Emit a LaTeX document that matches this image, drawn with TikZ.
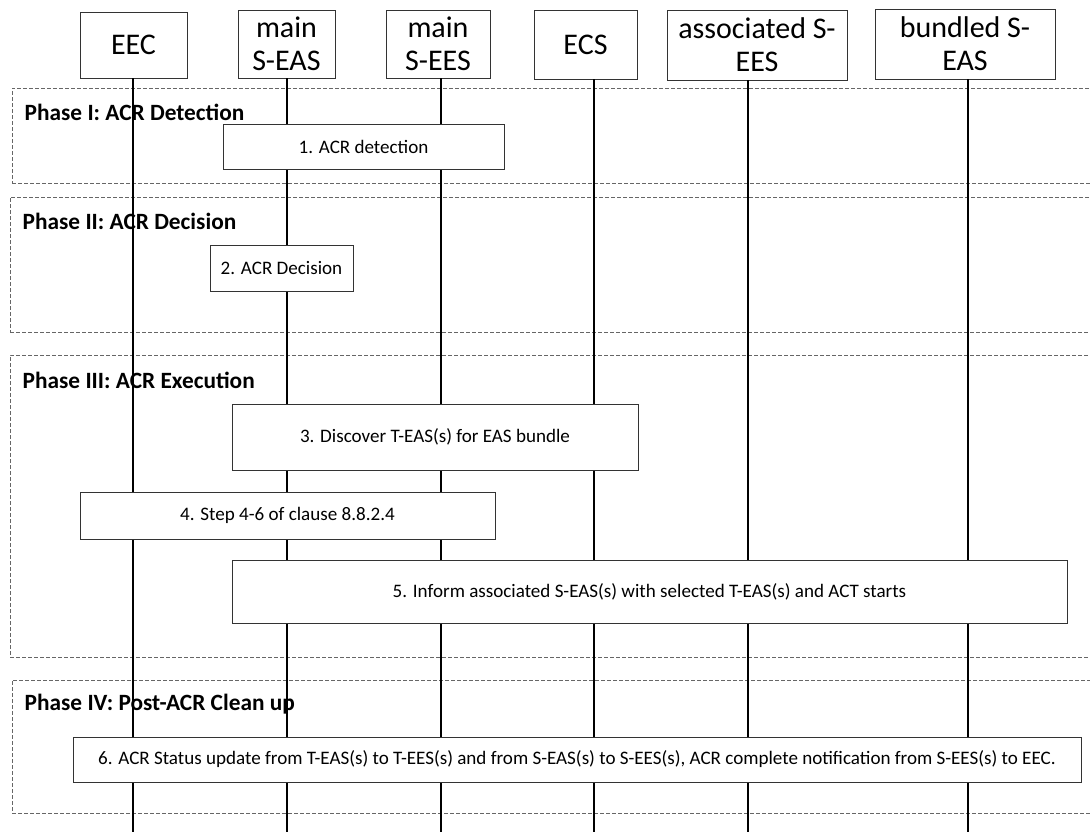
\documentclass[tikz,border=0pt]{standalone}
\usepackage{fontspec}
\setmainfont{Carlito}
\usetikzlibrary{fit,positioning}

\begin{document}
\begin{tikzpicture}[
  x=0.75pt, y=-0.75pt,
  ent/.style={draw=black!80,fill=white,inner sep=0pt},
  enttxt/.style={align=center,inner sep=0pt,
    font=\fontsize{22.5}{25}\selectfont},
  stepbox/.style={draw=black!80,fill=white,inner sep=0pt},
  steptxt/.style={inner sep=0pt,font=\fontsize{14.3}{16}\selectfont},
  phasebox/.style={draw=black!60,dashed,dash pattern=on 3pt off 1.5pt,inner sep=0pt},
  phaselab/.style={anchor=west,font=\fontsize{17.5}{20}\selectfont\bfseries},
  life/.style={line width=1.5pt}
]
  \useasboundingbox (0,0) rectangle (1090,832);
  \clip (0,0) rectangle (1090,832);

  % phases
  \node[phasebox,fit={(12,88) (1100,183)}]  (ph1) {};
  \node[phasebox,fit={(10,197) (1100,332)}] (ph2) {};
  \node[phasebox,fit={(10,355) (1100,657)}] (ph3) {};
  \node[phasebox,fit={(12,680) (1100,813)}] (ph4) {};

  % entities
  \node[ent,fit={(80,12) (187,78)}]   (eec)  {};
  \node[ent,fit={(238,10) (335,78)}]  (seas) {};
  \node[ent,fit={(386,10) (490,78)}]  (sees) {};
  \node[ent,fit={(534,10) (637,79)}]  (ecs)  {};
  \node[ent,fit={(667,10) (847,80)}]  (asees) {};
  \node[ent,fit={(875,9) (1055,79)}]  (bseas) {};
  \node[enttxt] (eect)   at (eec)   {EEC};
  \node[enttxt] (seast)  at (seas)  {main\\S-EAS};
  \node[enttxt] (seest)  at (sees)  {main\\S-EES};
  \node[enttxt] (ecst)   at (ecs)   {ECS};
  \node[enttxt] (aseest) at (asees) {associated S-\\EES};
  \node[enttxt] (bseast) at (bseas) {bundled S-\\EAS};

  % lifelines
  \coordinate (eecb)   at (133,832);
  \coordinate (seasb)  at (287,832);
  \coordinate (seesb)  at (441,832);
  \coordinate (ecsb)   at (594,832);
  \coordinate (aseesb) at (748,832);
  \coordinate (bseasb) at (968,832);
  \draw[life] (eec.south -| eecb) -- (eecb);
  \draw[life] (seas.south -| seasb) -- (seasb);
  \draw[life] (sees.south -| seesb) -- (seesb);
  \draw[life] (ecs.south -| ecsb) -- (ecsb);
  \draw[life] (asees.south -| aseesb) -- (aseesb);
  \draw[life] (bseas.south -| bseasb) -- (bseasb);

  \node[phaselab] (l1) at (20,112) {Phase I: ACR Detection};
  \node[phaselab] (l2) at (18,221) {Phase II: ACR Decision};
  \node[phaselab] (l3) at (18,380) {Phase III: ACR Execution};
  \node[phaselab] (l4) at (20,704) {Phase IV: Post-ACR Clean up};

  % steps
  \node[stepbox,fit={(223,124) (504,169)}]  (s1) {};
  \node[stepbox,fit={(210,245) (353,291)}]  (s2) {};
  \node[stepbox,fit={(232,404) (638,470)}]  (s3) {};
  \node[stepbox,fit={(80,492) (495,539)}]   (s4) {};
  \node[stepbox,fit={(232,560) (1067,623)}] (s5) {};
  \node[stepbox,fit={(73,737) (1081,782)}]  (s6) {};
  \node[steptxt] (s1t) at (s1) {1. ACR detection};
  \node[steptxt] (s2t) at (s2) {2. ACR Decision};
  \node[steptxt] (s3t) at (s3) {3. Discover T-EAS(s) for EAS bundle};
  \node[steptxt] (s4t) at (s4) {4. Step 4-6 of clause 8.8.2.4};
  \node[steptxt] (s5t) at (s5) {5. Inform associated S-EAS(s) with selected T-EAS(s) and ACT starts};
  \node[steptxt] (s6t) at (s6) {6. ACR Status update from T-EAS(s) to T-EES(s) and from S-EAS(s) to S-EES(s), ACR complete notification from S-EES(s) to EEC.};
\end{tikzpicture}
\end{document}
